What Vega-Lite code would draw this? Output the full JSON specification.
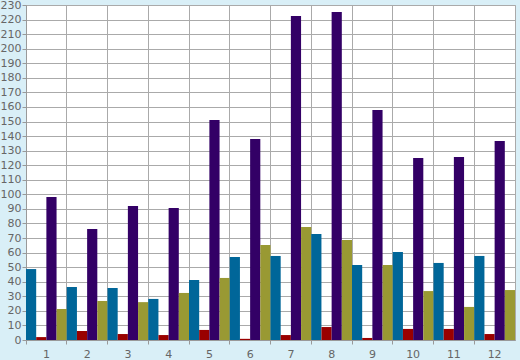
{
  "$schema": "https://vega.github.io/schema/vega-lite/v6.json",
  "width": 489,
  "height": 335,
  "autosize": "none",
  "padding": {"left": 26, "top": 5, "right": 5, "bottom": 20},
  "background": "#d9eff7",
  "config": {
    "view": {"fill": "white", "stroke": "#aaaaaa", "strokeWidth": 1},
    "axis": {
      "labelFont": "DejaVu Sans",
      "labelFontSize": 11,
      "labelColor": "#666666",
      "gridColor": "#aaaaaa",
      "gridOpacity": 1,
      "gridWidth": 1,
      "domainColor": "#999999",
      "tickColor": "#999999",
      "tickSize": 4,
      "title": null
    }
  },
  "data": {
    "values": [
      {"m": 1, "s": "A", "v": 48.7}, {"m": 1, "s": "B", "v": 2}, {"m": 1, "s": "C", "v": 98.2}, {"m": 1, "s": "D", "v": 21.3},
      {"m": 2, "s": "A", "v": 36.4}, {"m": 2, "s": "B", "v": 6.2}, {"m": 2, "s": "C", "v": 76.2}, {"m": 2, "s": "D", "v": 26.8},
      {"m": 3, "s": "A", "v": 35.7}, {"m": 3, "s": "B", "v": 4.1}, {"m": 3, "s": "C", "v": 92}, {"m": 3, "s": "D", "v": 26},
      {"m": 4, "s": "A", "v": 28.2}, {"m": 4, "s": "B", "v": 3.4}, {"m": 4, "s": "C", "v": 90.6}, {"m": 4, "s": "D", "v": 32.3},
      {"m": 5, "s": "A", "v": 41.2}, {"m": 5, "s": "B", "v": 6.9}, {"m": 5, "s": "C", "v": 151}, {"m": 5, "s": "D", "v": 42.6},
      {"m": 6, "s": "A", "v": 57}, {"m": 6, "s": "B", "v": 0.8}, {"m": 6, "s": "C", "v": 138}, {"m": 6, "s": "D", "v": 65.2},
      {"m": 7, "s": "A", "v": 57.7}, {"m": 7, "s": "B", "v": 3.4}, {"m": 7, "s": "C", "v": 222.4}, {"m": 7, "s": "D", "v": 77.6},
      {"m": 8, "s": "A", "v": 72.8}, {"m": 8, "s": "B", "v": 8.9}, {"m": 8, "s": "C", "v": 225.2}, {"m": 8, "s": "D", "v": 68.7},
      {"m": 9, "s": "A", "v": 51.5}, {"m": 9, "s": "B", "v": 1.4}, {"m": 9, "s": "C", "v": 157.9}, {"m": 9, "s": "D", "v": 51.5},
      {"m": 10, "s": "A", "v": 60.4}, {"m": 10, "s": "B", "v": 7.6}, {"m": 10, "s": "C", "v": 125}, {"m": 10, "s": "D", "v": 33.6},
      {"m": 11, "s": "A", "v": 52.9}, {"m": 11, "s": "B", "v": 7.6}, {"m": 11, "s": "C", "v": 125.6}, {"m": 11, "s": "D", "v": 22.7},
      {"m": 12, "s": "A", "v": 57.7}, {"m": 12, "s": "B", "v": 4.1}, {"m": 12, "s": "C", "v": 136.6}, {"m": 12, "s": "D", "v": 34.3}
    ]
  },
  "mark": {"type": "bar"},
  "encoding": {
    "x": {
      "field": "m",
      "type": "ordinal",
      "scale": {"paddingInner": 0, "paddingOuter": 0},
      "axis": {"labelAngle": 0, "grid": true, "bandPosition": 0, "labelPadding": 4}
    },
    "xOffset": {
      "field": "s",
      "type": "nominal",
      "scale": {"paddingInner": 0, "paddingOuter": 0}
    },
    "y": {
      "field": "v",
      "type": "quantitative",
      "scale": {"domain": [0, 230], "nice": false},
      "axis": {"values": [0,10,20,30,40,50,60,70,80,90,100,110,120,130,140,150,160,170,180,190,200,210,220,230], "grid": true, "labelPadding": 1}
    },
    "color": {
      "field": "s",
      "type": "nominal",
      "scale": {"domain": ["A", "B", "C", "D"], "range": ["#006699", "#990000", "#330066", "#999933"]},
      "legend": null
    }
  }
}
